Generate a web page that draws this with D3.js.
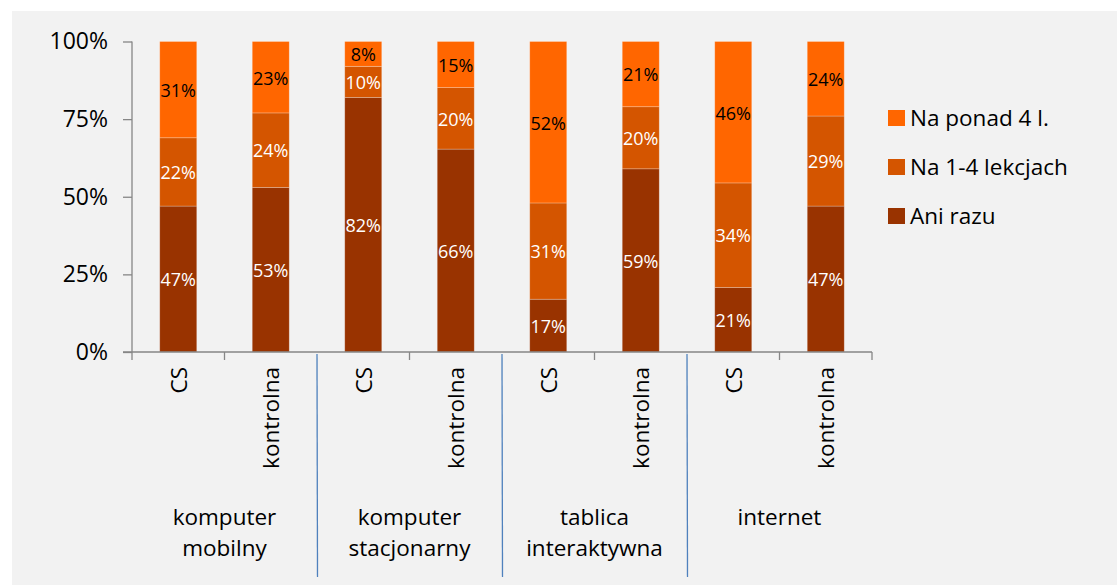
<!DOCTYPE html>
<html><head><meta charset="utf-8">
<script src="https://cdn.jsdelivr.net/npm/d3@7"></script>
<style>body{margin:0;background:#fff;}svg{display:block;}</style>
</head><body>
<svg id="c" width="1117" height="585"></svg>
<script>
const groups = ["komputer\nmobilny", "komputer\nstacjonarny", "tablica\ninteraktywna", "internet"];
const subs = ["CS", "kontrolna"];
const seriesNames = ["Ani razu", "Na 1-4 lekcjach", "Na ponad 4 l."];
const aniRazu   = [47, 53, 82, 66, 17, 59, 21, 47];
const na14      = [22, 24, 10, 20, 31, 20, 34, 29];
const ponad4    = [31, 23, 8, 15, 52, 21, 46, 24];
const yTicks = [0, 0.25, 0.5, 0.75, 1];
const colors = ["#993300", "#D45500", "#FF6600"];
const labelColors = ["#ffffff", "#ffffff", "#000000"];

const FONT = "'Open Sans', sans-serif";
const FS = 22.5;
const svg = d3.select("#c");
svg.append("rect").attr("x", 12).attr("y", 11).attr("width", 1105).attr("height", 574).attr("fill", "#f2f2f2");

const x0 = 132, x1 = 872, yTop = 41.5, yBot = 352;
const slots = [];
groups.forEach((g, gi) => subs.forEach(s => slots.push(gi + "|" + s)));
const x = d3.scaleBand().domain(slots).range([x0, x1]).paddingInner(0.6).paddingOuter(0.3);
const xs = d3.scaleBand().domain(slots).range([x0, x1]);
const y = d3.scaleLinear().domain([0, 1]).range([yBot, yTop]);

const data = slots.map((k, i) => {
  const vals = [aniRazu[i], na14[i], ponad4[i]];
  const tot = d3.sum(vals);
  const o = {key: k};
  seriesNames.forEach((n, j) => o[n] = vals[j] / tot);
  o.raw = vals;
  return o;
});
const stack = d3.stack().keys(seriesNames)(data);

const gBars = svg.append("g");
stack.forEach((layer, si) => {
  gBars.selectAll(null).data(layer).enter().append("rect")
    .attr("x", d => x(d.data.key))
    .attr("width", x.bandwidth())
    .attr("y", d => y(d[1]))
    .attr("height", d => y(d[0]) - y(d[1]))
    .attr("fill", colors[si])
    .attr("stroke", "rgba(255,255,255,0.3)").attr("stroke-width", 0.8);
  gBars.selectAll(null).data(layer).enter().append("text")
    .attr("x", d => x(d.data.key) + x.bandwidth() / 2)
    .attr("y", d => (y(d[0]) + y(d[1])) / 2 + 1)
    .attr("dy", "0.35em")
    .attr("text-anchor", "middle")
    .attr("font-family", FONT).attr("font-size", 18)
    .attr("fill", labelColors[si])
    .text((d, i) => d.data.raw[si] + "%");
});

// y axis
const yAxis = d3.axisLeft(y).tickValues(yTicks).tickFormat(d3.format(".0%")).tickSize(9).tickPadding(15);
const ga = svg.append("g").attr("transform", `translate(${x0},0)`).call(yAxis);
ga.select(".domain").attr("stroke", "#868686").attr("stroke-width", 1.3).attr("d", `M0,${yTop}V${yBot}`);
ga.selectAll(".tick line").attr("stroke", "#868686").attr("stroke-width", 1.3);
ga.selectAll(".tick text").attr("font-family", FONT).attr("font-size", 23).attr("fill", "#000");

// x axis line
svg.append("line").attr("x1", x0 - 9).attr("x2", x1).attr("y1", yBot).attr("y2", yBot)
  .attr("stroke", "#868686").attr("stroke-width", 1.3);
// ticks
const bounds = d3.range(slots.length + 1).map(i => x0 + i * xs.bandwidth());
bounds.forEach((b, i) => {
  if (i % 2 === 0 && i > 0 && i < slots.length) {
    svg.append("line").attr("x1", b).attr("x2", b + 0.5).attr("y1", yBot + 2).attr("y2", 577)
      .attr("stroke", "#4f81bd").attr("stroke-width", 1.3);
  } else {
    svg.append("line").attr("x1", b).attr("x2", b).attr("y1", yBot).attr("y2", yBot + 8)
      .attr("stroke", "#868686").attr("stroke-width", 1.3);
  }
});
// sub labels
svg.selectAll(null).data(slots).enter().append("text")
  .attr("transform", d => `translate(${xs(d) + xs.bandwidth() / 2 + 8.5},367) rotate(-90)`)
  .attr("text-anchor", "end")
  .attr("font-family", FONT).attr("font-size", FS).attr("fill", "#000")
  .text(d => d.split("|")[1]);
// group labels
groups.forEach((g, gi) => {
  const cx = x0 + (gi * 2 + 1) * xs.bandwidth();
  const t = svg.append("text").attr("text-anchor", "middle")
    .attr("font-family", FONT).attr("font-size", FS).attr("fill", "#000");
  g.split("\n").forEach((ln, li) => {
    t.append("tspan").attr("x", cx).attr("y", 525 + li * 31).text(ln);
  });
});

// legend
const legendOrder = [2, 1, 0];
legendOrder.forEach((si, i) => {
  const ly = 118 + i * 49;
  svg.append("rect").attr("x", 888).attr("y", ly - 8).attr("width", 17).attr("height", 16).attr("fill", colors[si]);
  svg.append("text").attr("x", 910).attr("y", ly).attr("dy", "0.35em")
    .attr("font-family", FONT).attr("font-size", FS).attr("fill", "#000").text(seriesNames[si]);
});
</script>
</body></html>
